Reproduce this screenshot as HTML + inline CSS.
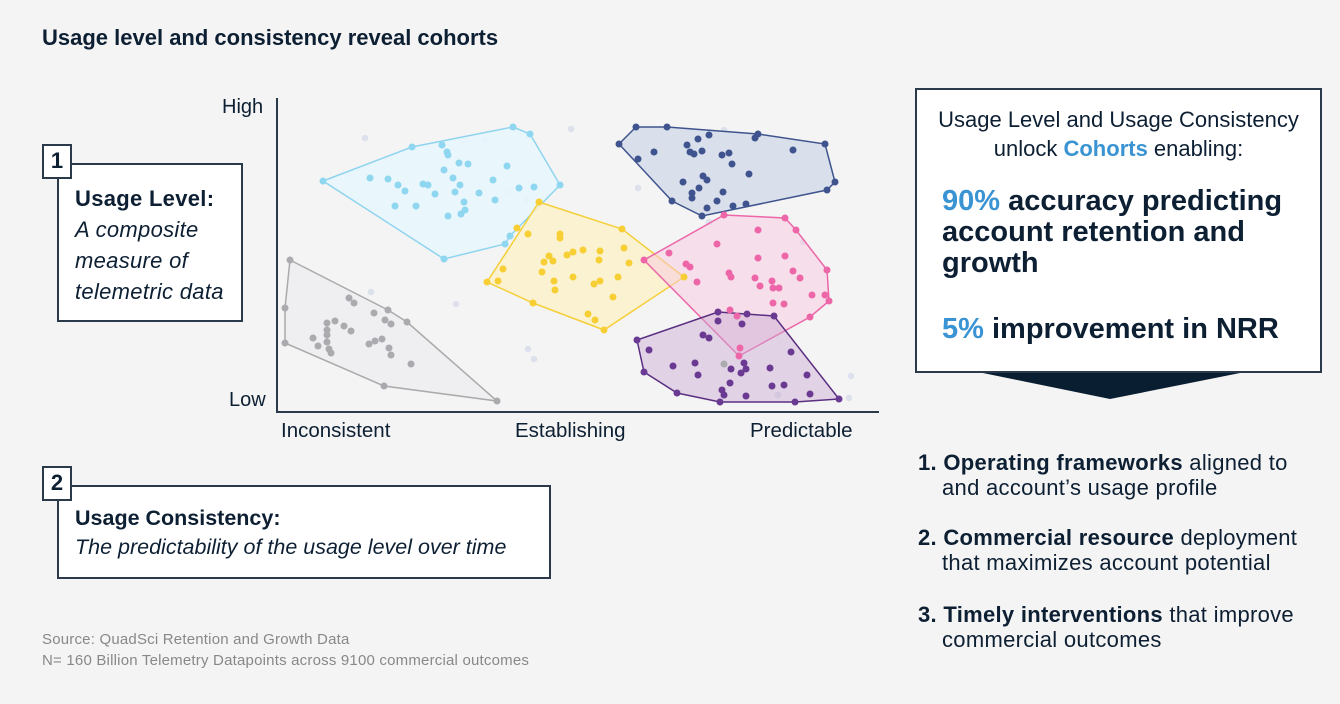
<!DOCTYPE html>
<html><head><meta charset="utf-8"><style>
body{margin:0;width:1340px;height:704px;background:#f4f4f4;font-family:"Liberation Sans",sans-serif;color:#0d1f33;position:relative;overflow:hidden}
.a{position:absolute;white-space:nowrap}
.box{position:absolute;background:#fff;border:2px solid #2b3a4a;box-sizing:border-box}
.badge{position:absolute;background:#fff;border:2px solid #2b3a4a;box-sizing:border-box;font-weight:bold;font-size:22px;text-align:center;line-height:30px}
.bl{color:#3a93d2}
</style></head><body>
<div class="a" style="left:42px;top:25px;font-size:22px;font-weight:bold">Usage level and consistency reveal cohorts</div>

<div class="box" style="left:57px;top:163px;width:186px;height:159px"></div>
<div class="badge" style="left:42px;top:144px;width:30px;height:35px">1</div>
<div class="a" style="left:75px;top:183px;font-size:22px;line-height:31px;letter-spacing:0.3px"><b>Usage Level:</b><br><i>A composite<br>measure of<br>telemetric data</i></div>

<div class="box" style="left:57px;top:485px;width:494px;height:94px"></div>
<div class="badge" style="left:42px;top:466px;width:30px;height:35px">2</div>
<div class="a" style="left:75px;top:504px;font-size:21.5px;line-height:29px"><b>Usage Consistency:</b><br><i>The predictability of the usage level over time</i></div>

<div class="a" style="left:42px;top:629px;font-size:15px;color:#888;line-height:21px;letter-spacing:0.2px">Source: QuadSci Retention and Growth Data<br>N= 160 Billion Telemetry Datapoints across 9100 commercial outcomes</div>

<div class="a" style="left:222px;top:96px;font-size:20px">High</div>
<div class="a" style="left:229px;top:389px;font-size:20px">Low</div>
<div class="a" style="left:281px;top:419px;font-size:20.5px">Inconsistent</div>
<div class="a" style="left:515px;top:419px;font-size:20.5px">Establishing</div>
<div class="a" style="left:750px;top:419px;font-size:20.5px">Predictable</div>

<svg class="a" style="left:0;top:0" width="1340" height="704">
<line x1="277" y1="98" x2="277" y2="413" stroke="#2b3a4a" stroke-width="2"/>
<line x1="276" y1="412" x2="879" y2="412" stroke="#2b3a4a" stroke-width="2"/>
<g fill="#dde1ec">
<circle cx="365" cy="138" r="3.3"/><circle cx="465" cy="141" r="3.3"/><circle cx="485" cy="140" r="3.3"/><circle cx="507" cy="192" r="3.3"/><circle cx="527" cy="200" r="3.3"/><circle cx="571" cy="129" r="3.3"/><circle cx="302" cy="280" r="3.3"/><circle cx="371" cy="292" r="3.3"/><circle cx="456" cy="304" r="3.3"/><circle cx="431" cy="350" r="3.3"/><circle cx="528" cy="349" r="3.3"/><circle cx="534" cy="359" r="3.3"/><circle cx="724" cy="130" r="3.3"/><circle cx="638" cy="188" r="3.3"/><circle cx="709" cy="222" r="3.3"/><circle cx="803" cy="242" r="3.3"/><circle cx="778" cy="395" r="3.3"/><circle cx="851" cy="376" r="3.3"/><circle cx="849" cy="398" r="3.3"/>
</g>
<polygon points="290,260 388,310 407,322 497,401 384,386 285,343 285,308" fill="#efeff2" stroke="#aaa" stroke-width="1.5"/>
<polygon points="323,181 412,147 513,127 530,134 560,185 510,236 505,244 444,259" fill="#e8f6fd" fill-opacity=".9" stroke="#8fd4ef" stroke-width="1.5"/>
<polygon points="539,202 622,229 684,277 604,330 533,303 487,282" fill="#fcf1c8" fill-opacity=".8" stroke="#f5cf3a" stroke-width="1.5"/>
<polygon points="636,127 667,127 758,134 825,144 835,182 827,190 702,216 672,201 619,144" fill="#d9dfeb" stroke="#3f548e" stroke-width="1.5"/>
<polygon points="724,215 785,218 796,230 827,270 829,301 810,317 739,356 644,260" fill="#f7c7e0" fill-opacity=".5" stroke="#ec66a8" stroke-width="1.5"/>
<polygon points="718,312 774,316 839,399 795,402 720,402 677,393 644,372 637,340" fill="#c9a9d3" fill-opacity=".45" stroke="#5a2f82" stroke-width="1.5"/>
<g fill="#aaaaaf">
<circle cx="290" cy="260" r="3.5"/><circle cx="388" cy="310" r="3.5"/><circle cx="407" cy="322" r="3.5"/><circle cx="497" cy="401" r="3.5"/><circle cx="384" cy="386" r="3.5"/><circle cx="285" cy="343" r="3.5"/><circle cx="285" cy="308" r="3.5"/>
<circle cx="349" cy="298" r="3.5"/><circle cx="354" cy="303" r="3.5"/><circle cx="374" cy="313" r="3.5"/><circle cx="385" cy="320" r="3.5"/><circle cx="391" cy="324" r="3.5"/><circle cx="327" cy="323" r="3.5"/><circle cx="335" cy="321" r="3.5"/><circle cx="344" cy="326" r="3.5"/><circle cx="351" cy="331" r="3.5"/><circle cx="327" cy="330" r="3.5"/><circle cx="327" cy="335" r="3.5"/><circle cx="313" cy="338" r="3.5"/><circle cx="318" cy="346" r="3.5"/><circle cx="327" cy="342" r="3.5"/><circle cx="329" cy="349" r="3.5"/><circle cx="331" cy="353" r="3.5"/><circle cx="369" cy="344" r="3.5"/><circle cx="375" cy="341" r="3.5"/><circle cx="382" cy="339" r="3.5"/><circle cx="389" cy="348" r="3.5"/><circle cx="391" cy="355" r="3.5"/><circle cx="411" cy="364" r="3.5"/><circle cx="724" cy="364" r="3.5"/>
</g>
<g fill="#8fd6f0">
<circle cx="323" cy="181" r="3.5"/><circle cx="412" cy="147" r="3.5"/><circle cx="513" cy="127" r="3.5"/><circle cx="530" cy="134" r="3.5"/><circle cx="560" cy="185" r="3.5"/><circle cx="510" cy="236" r="3.5"/><circle cx="505" cy="244" r="3.5"/><circle cx="444" cy="259" r="3.5"/>
<circle cx="370" cy="178" r="3.5"/><circle cx="388" cy="179" r="3.5"/><circle cx="398" cy="185" r="3.5"/><circle cx="405" cy="191" r="3.5"/><circle cx="423" cy="184" r="3.5"/><circle cx="428" cy="185" r="3.5"/><circle cx="435" cy="194" r="3.5"/><circle cx="442" cy="145" r="3.5"/><circle cx="447" cy="152" r="3.5"/><circle cx="448" cy="155" r="3.5"/><circle cx="459" cy="163" r="3.5"/><circle cx="468" cy="164" r="3.5"/><circle cx="444" cy="170" r="3.5"/><circle cx="453" cy="178" r="3.5"/><circle cx="460" cy="185" r="3.5"/><circle cx="455" cy="192" r="3.5"/><circle cx="479" cy="193" r="3.5"/><circle cx="464" cy="202" r="3.5"/><circle cx="465" cy="210" r="3.5"/><circle cx="461" cy="214" r="3.5"/><circle cx="448" cy="216" r="3.5"/><circle cx="395" cy="206" r="3.5"/><circle cx="416" cy="206" r="3.5"/><circle cx="493" cy="180" r="3.5"/><circle cx="495" cy="200" r="3.5"/><circle cx="507" cy="166" r="3.5"/><circle cx="519" cy="188" r="3.5"/><circle cx="534" cy="187" r="3.5"/>
</g>
<g fill="#f7cf35">
<circle cx="539" cy="202" r="3.5"/><circle cx="622" cy="229" r="3.5"/><circle cx="684" cy="277" r="3.5"/><circle cx="604" cy="330" r="3.5"/><circle cx="533" cy="303" r="3.5"/><circle cx="487" cy="282" r="3.5"/>
<circle cx="528" cy="234" r="3.5"/><circle cx="560" cy="234" r="3.5"/><circle cx="560" cy="238" r="3.5"/><circle cx="549" cy="256" r="3.5"/><circle cx="553" cy="261" r="3.5"/><circle cx="544" cy="262" r="3.5"/><circle cx="542" cy="272" r="3.5"/><circle cx="567" cy="255" r="3.5"/><circle cx="573" cy="252" r="3.5"/><circle cx="583" cy="250" r="3.5"/><circle cx="554" cy="281" r="3.5"/><circle cx="555" cy="290" r="3.5"/><circle cx="573" cy="277" r="3.5"/><circle cx="503" cy="269" r="3.5"/><circle cx="498" cy="281" r="3.5"/><circle cx="517" cy="228" r="3.5"/><circle cx="588" cy="314" r="3.5"/><circle cx="600" cy="251" r="3.5"/><circle cx="599" cy="260" r="3.5"/><circle cx="624" cy="248" r="3.5"/><circle cx="629" cy="263" r="3.5"/><circle cx="618" cy="277" r="3.5"/><circle cx="600" cy="281" r="3.5"/><circle cx="594" cy="284" r="3.5"/><circle cx="613" cy="297" r="3.5"/><circle cx="595" cy="320" r="3.5"/>
</g>
<g fill="#3f548e">
<circle cx="636" cy="127" r="3.5"/><circle cx="667" cy="127" r="3.5"/><circle cx="758" cy="134" r="3.5"/><circle cx="825" cy="144" r="3.5"/><circle cx="835" cy="182" r="3.5"/><circle cx="827" cy="190" r="3.5"/><circle cx="702" cy="216" r="3.5"/><circle cx="672" cy="201" r="3.5"/><circle cx="619" cy="144" r="3.5"/>
<circle cx="654" cy="152" r="3.5"/><circle cx="638" cy="159" r="3.5"/><circle cx="687" cy="145" r="3.5"/><circle cx="698" cy="139" r="3.5"/><circle cx="709" cy="135" r="3.5"/><circle cx="690" cy="152" r="3.5"/><circle cx="694" cy="154" r="3.5"/><circle cx="702" cy="151" r="3.5"/><circle cx="722" cy="155" r="3.5"/><circle cx="729" cy="153" r="3.5"/><circle cx="732" cy="164" r="3.5"/><circle cx="755" cy="138" r="3.5"/><circle cx="793" cy="150" r="3.5"/><circle cx="749" cy="174" r="3.5"/><circle cx="683" cy="182" r="3.5"/><circle cx="703" cy="176" r="3.5"/><circle cx="707" cy="180" r="3.5"/><circle cx="699" cy="188" r="3.5"/><circle cx="692" cy="193" r="3.5"/><circle cx="692" cy="198" r="3.5"/><circle cx="723" cy="192" r="3.5"/><circle cx="717" cy="201" r="3.5"/><circle cx="707" cy="208" r="3.5"/><circle cx="733" cy="206" r="3.5"/><circle cx="746" cy="204" r="3.5"/>
</g>
<g fill="#ec66a8">
<circle cx="724" cy="215" r="3.5"/><circle cx="785" cy="218" r="3.5"/><circle cx="796" cy="230" r="3.5"/><circle cx="827" cy="270" r="3.5"/><circle cx="829" cy="301" r="3.5"/><circle cx="810" cy="317" r="3.5"/><circle cx="739" cy="356" r="3.5"/><circle cx="644" cy="260" r="3.5"/>
<circle cx="758" cy="230" r="3.5"/><circle cx="717" cy="244" r="3.5"/><circle cx="669" cy="253" r="3.5"/><circle cx="686" cy="264" r="3.5"/><circle cx="690" cy="267" r="3.5"/><circle cx="697" cy="282" r="3.5"/><circle cx="729" cy="273" r="3.5"/><circle cx="731" cy="277" r="3.5"/><circle cx="758" cy="258" r="3.5"/><circle cx="785" cy="256" r="3.5"/><circle cx="793" cy="271" r="3.5"/><circle cx="800" cy="278" r="3.5"/><circle cx="755" cy="278" r="3.5"/><circle cx="760" cy="286" r="3.5"/><circle cx="772" cy="281" r="3.5"/><circle cx="773" cy="288" r="3.5"/><circle cx="779" cy="288" r="3.5"/><circle cx="773" cy="303" r="3.5"/><circle cx="784" cy="304" r="3.5"/><circle cx="812" cy="295" r="3.5"/><circle cx="825" cy="295" r="3.5"/><circle cx="730" cy="310" r="3.5"/><circle cx="737" cy="316" r="3.5"/><circle cx="740" cy="348" r="3.5"/>
</g>
<g fill="#6a3a92">
<circle cx="718" cy="312" r="3.5"/><circle cx="774" cy="316" r="3.5"/><circle cx="839" cy="399" r="3.5"/><circle cx="795" cy="402" r="3.5"/><circle cx="720" cy="402" r="3.5"/><circle cx="677" cy="393" r="3.5"/><circle cx="644" cy="372" r="3.5"/><circle cx="637" cy="340" r="3.5"/>
<circle cx="718" cy="321" r="3.5"/><circle cx="747" cy="314" r="3.5"/><circle cx="742" cy="324" r="3.5"/><circle cx="703" cy="335" r="3.5"/><circle cx="709" cy="338" r="3.5"/><circle cx="649" cy="350" r="3.5"/><circle cx="673" cy="366" r="3.5"/><circle cx="695" cy="363" r="3.5"/><circle cx="698" cy="375" r="3.5"/><circle cx="731" cy="369" r="3.5"/><circle cx="744" cy="363" r="3.5"/><circle cx="746" cy="369" r="3.5"/><circle cx="741" cy="373" r="3.5"/><circle cx="770" cy="368" r="3.5"/><circle cx="791" cy="352" r="3.5"/><circle cx="807" cy="375" r="3.5"/><circle cx="730" cy="383" r="3.5"/><circle cx="722" cy="390" r="3.5"/><circle cx="724" cy="395" r="3.5"/><circle cx="746" cy="396" r="3.5"/><circle cx="772" cy="386" r="3.5"/><circle cx="784" cy="385" r="3.5"/><circle cx="810" cy="394" r="3.5"/>
</g>
<polygon points="978,372 1245,372 1110,399" fill="#0a1e31"/>
</svg>

<div class="box" style="left:915px;top:88px;width:407px;height:285px"></div>
<div class="a" style="left:915px;top:105px;width:407px;text-align:center;font-size:22px;line-height:29px">Usage Level and Usage Consistency<br>unlock <b class="bl">Cohorts</b> enabling:</div>
<div class="a" style="left:942px;top:186px;font-size:29px;font-weight:bold;line-height:31px"><span class="bl">90%</span> accuracy predicting<br>account retention and<br>growth</div>
<div class="a" style="left:942px;top:313px;font-size:29px;font-weight:bold"><span class="bl">5%</span> improvement in NRR</div>

<div class="a" style="left:918px;top:450px;font-size:22px;line-height:25px;letter-spacing:0.3px"><b>1. Operating frameworks</b> aligned to<br><span style="padding-left:24px">and account’s usage profile</span></div>
<div class="a" style="left:918px;top:525px;font-size:22px;line-height:25px;letter-spacing:0.3px"><b>2. Commercial resource</b> deployment<br><span style="padding-left:24px">that maximizes account potential</span></div>
<div class="a" style="left:918px;top:602px;font-size:22px;line-height:25px;letter-spacing:0.3px"><b>3. Timely interventions</b> that improve<br><span style="padding-left:24px">commercial outcomes</span></div>
</body></html>
